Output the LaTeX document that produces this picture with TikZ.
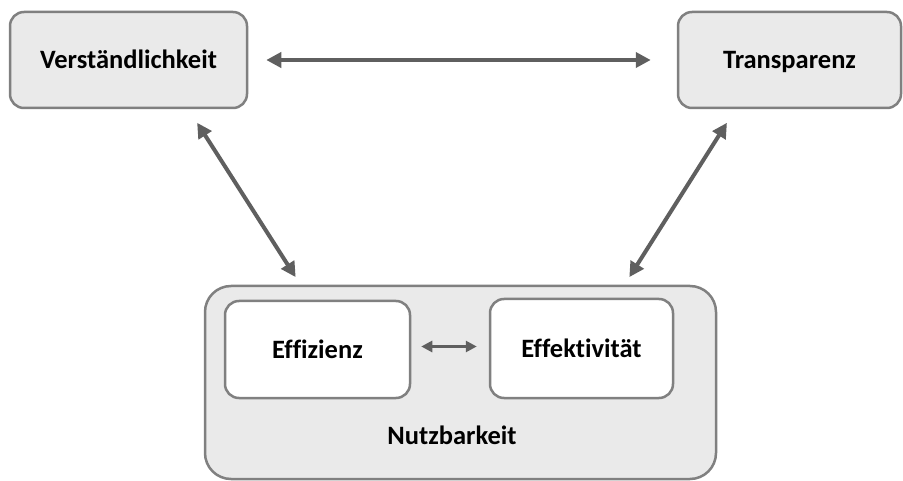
\documentclass[tikz,border=0pt]{standalone}
\usepackage{fontspec}
\setmainfont{Carlito}[Ligatures=NoCommon]
\usetikzlibrary{arrows.meta,positioning}
\definecolor{boxgray}{HTML}{EAEAEA}
\definecolor{edgegray}{HTML}{808080}
\definecolor{arrowgray}{HTML}{5F5F5F}
\tikzset{
  konzept/.style={
      draw=edgegray,
      line width=2.5pt,
      rounded corners=14pt,
      fill=boxgray,
      align=center,
      text height=18pt,
      text depth=0pt,
      font=\fontsize{26.5}{30}\selectfont\bfseries,
  },
  teilkonzept/.style={
      konzept,
      fill=white,
  },
  rahmen/.style={
      konzept,
      rounded corners=26pt,
  },
  beziehung/.style={
      draw=arrowgray,
      line width=4pt,
      {Triangle[length=15pt,width=15pt]}-{Triangle[length=15pt,width=15pt]},
  },
  kleinebeziehung/.style={
      beziehung,
      line width=3pt,
      {Triangle[length=11pt,width=11pt]}-{Triangle[length=11pt,width=11pt]},
  }
}

\begin{document}
\begin{tikzpicture}[x=1pt,y=-1pt]
  \useasboundingbox (0,0) rectangle (903,481);

  \node[konzept, minimum width=237pt, minimum height=96pt](verst) at (128.5,60) {Verständlichkeit};
  \node[konzept, minimum width=223pt, minimum height=96pt](transp) at (789.5,60) {Transparenz};

  \node[rahmen, minimum width=511pt, minimum height=193pt](nutz) at (460.5,382.5) {};
  \node[teilkonzept, minimum width=185pt, minimum height=97pt](effiz) at (317.5,349.5) {Effizienz};
  \node[teilkonzept, minimum width=183pt, minimum height=99pt](effek) at (581.5,348.5) {Effektivität};
  \node[font=\fontsize{26.5}{30}\selectfont\bfseries, text height=18pt, text depth=0pt](nutztext) at (452,435) {Nutzbarkeit};

  \draw[beziehung, shorten <=18pt, shorten >=26pt] (verst) -- (transp);
  \draw[beziehung, shorten <=16pt, shorten >=9pt] ([xshift=60pt]verst.south) -- ([xshift=-160pt]nutz.north);
  \draw[beziehung, shorten <=16pt, shorten >=9pt] ([xshift=-54pt]transp.south) -- ([xshift=164pt]nutz.north);
  \draw[kleinebeziehung, shorten <=10pt, shorten >=12pt] ([yshift=3pt]effiz.east) -- ([yshift=3pt]effiz.east -| effek.west);
\end{tikzpicture}
\end{document}
